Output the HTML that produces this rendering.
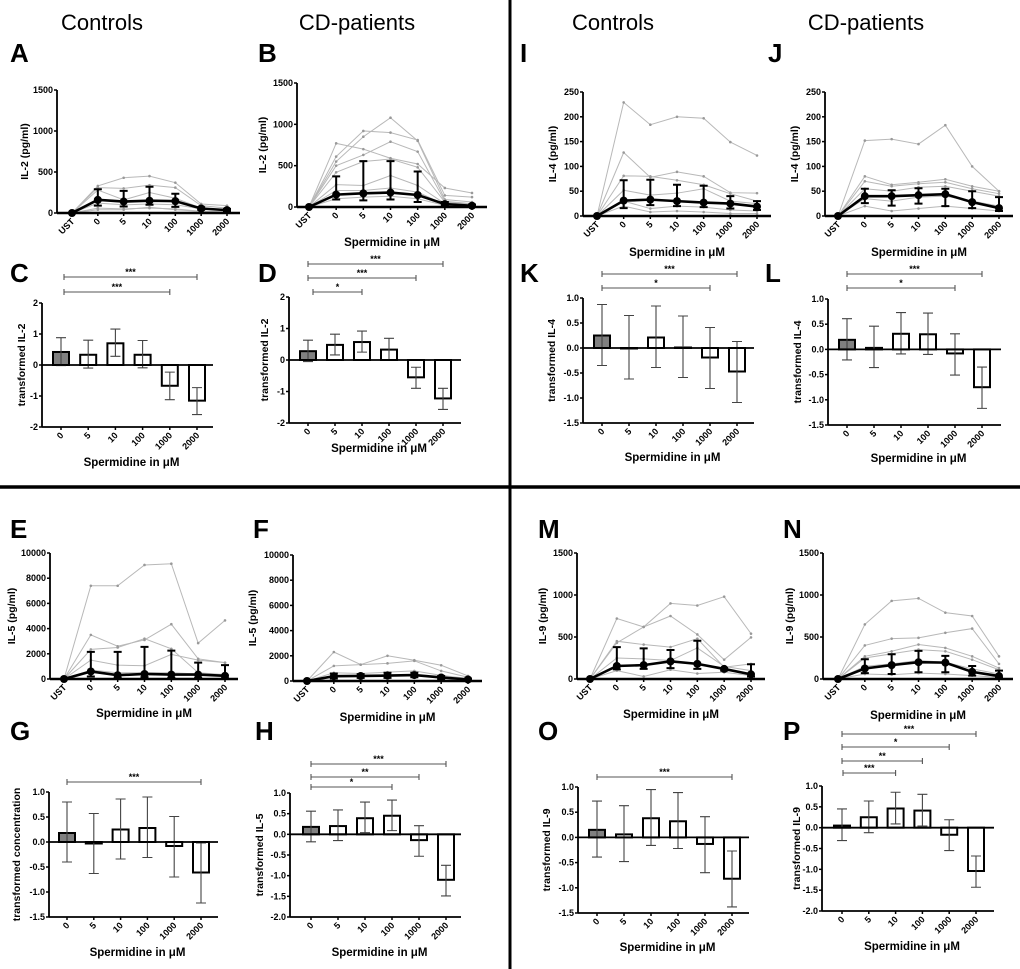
<!DOCTYPE html>
<html><head><meta charset="utf-8"><style>
body{margin:0;background:#fff;}
svg{display:block;font-family:"Liberation Sans",Arial,sans-serif;}
.hdr{font-size:22px;}
.lbl{font-size:26px;font-weight:bold;}
.tk{font-size:9px;font-weight:bold;}
.ttl{font-size:10.5px;font-weight:bold;}
.xt{font-size:11.5px;font-weight:bold;}
</style></head><body>
<svg id="fig" width="1020" height="969" viewBox="0 0 1020 969">
<rect width="1020" height="969" fill="#fff"/>
<line x1="510" y1="0" x2="510" y2="969" stroke="#000" stroke-width="3"/>
<line x1="0" y1="487" x2="1020" y2="487" stroke="#000" stroke-width="3.5"/>
<text class="hdr" x="102" y="30" text-anchor="middle">Controls</text>
<text class="hdr" x="357" y="30" text-anchor="middle">CD-patients</text>
<text class="hdr" x="613" y="30" text-anchor="middle">Controls</text>
<text class="hdr" x="866" y="30" text-anchor="middle">CD-patients</text>
<g id="plots"></g>
</svg>
<script>
// ---- line panel data ----
const lineCats = ["UST","0","5","10","100","1000","2000"];
const barCats = ["0","5","10","100","1000","2000"];

const aMean=[0,160,140,150,145,55,35], aHi=[0,290,270,320,235,70,50], aLo=[0,90,80,100,75,40,20];
const aInd=[[0,330,430,450,370,110,90],[0,310,300,340,310,90,60],[0,280,160,250,180,60,40],[0,120,100,110,100,50,30],[0,60,50,60,50,20,15],[0,40,40,70,40,20,10]];
const bMean=[0,150,165,175,145,35,15], bHi=[0,370,555,555,430,60,30], bLo=[0,90,80,90,60,15,5];
const bInd=[[0,770,700,590,520,230,170],[0,610,920,900,810,140,120],[0,550,850,1080,800,90,60],[0,500,630,790,670,70,40],[0,420,550,580,480,60,30],[0,270,260,380,260,40,20],[0,200,200,230,180,30,15],[0,100,120,130,100,20,10]];
const iMean=[0,31,33,30,27,25,19], iHi=[0,72,73,63,61,40,30], iLo=[0,16,22,20,18,15,12];
const iInd=[[0,229,184,200,197,149,122],[0,128,78,89,80,47,46],[0,81,80,72,63,45,30],[0,52,42,46,55,30,25],[0,30,15,20,18,12,10],[0,20,8,10,8,5,5]];
const jMean=[0,40,40,42,44,28,16], jHi=[0,55,52,56,55,50,38], jLo=[0,26,21,25,20,16,10];
const jInd=[[0,152,155,145,183,100,50],[0,80,63,68,74,60,50],[0,70,60,65,68,55,45],[0,55,50,58,60,50,40],[0,35,30,38,40,30,20],[0,20,10,15,20,15,10]];
const eMean=[0,600,300,400,350,350,250], eHi=[0,2150,2150,2550,2250,1300,1100], eLo=[0,200,100,150,100,100,50];
const eInd=[[0,7400,7400,9050,9150,2850,4650],[0,3500,2600,3100,4350,1600,1300],[0,2350,2500,3200,2400,500,350],[0,1500,1100,1050,1950,1500,1300],[0,700,500,500,500,400,300]];
const fMean=[0,380,400,430,470,280,120], fHi=[0,600,550,650,650,400,200], fLo=[0,200,250,250,300,150,50];
const fInd=[[0,2300,1300,2000,1650,1250,400],[0,1200,1300,1400,1600,800,300],[0,650,600,700,800,450,200]];
const mMean=[0,155,165,210,180,120,55], mHi=[0,380,365,345,455,130,175], mLo=[0,115,120,130,120,100,30];
const mInd=[[0,720,620,900,875,980,540],[0,430,620,750,530,230,495],[0,450,410,380,480,140,180],[0,250,240,220,370,150,100],[0,100,30,110,65,80,40]];
const nMean=[0,125,165,200,195,85,35], nHi=[0,235,295,335,275,155,100], nLo=[0,70,60,80,80,40,15];
const nInd=[[0,650,930,960,790,750,270],[0,400,480,490,550,600,180],[0,270,330,410,370,270,130],[0,250,300,350,330,230,110],[0,150,180,220,200,120,60],[0,60,50,70,60,40,20]];

// ---- bar panel data ----
const cVal=[0.42,0.33,0.70,0.33,-0.67,-1.15], cHi=[0.88,0.80,1.16,0.79,-0.23,-0.73], cLo=[-0.02,-0.10,0.28,-0.09,-1.12,-1.60];
const dVal=[0.28,0.48,0.57,0.33,-0.55,-1.22], dHi=[0.63,0.82,0.92,0.69,-0.23,-0.90], dLo=[-0.05,0.16,0.25,0.0,-0.90,-1.57];
const kVal=[0.25,0,0.21,0.01,-0.19,-0.47], kHi=[0.87,0.65,0.84,0.64,0.41,0.13], kLo=[-0.35,-0.62,-0.39,-0.59,-0.81,-1.09];
const lVal=[0.19,0.03,0.31,0.30,-0.08,-0.75], lHi=[0.61,0.46,0.73,0.72,0.31,-0.35], lLo=[-0.21,-0.36,-0.09,-0.10,-0.51,-1.17];
const gVal=[0.18,-0.03,0.25,0.28,-0.08,-0.61], gHi=[0.80,0.57,0.86,0.90,0.51,-0.02], gLo=[-0.40,-0.63,-0.34,-0.31,-0.70,-1.22];
const hVal=[0.18,0.20,0.39,0.45,-0.14,-1.10], hHi=[0.56,0.59,0.78,0.83,0.21,-0.75], hLo=[-0.18,-0.15,0.04,0.09,-0.53,-1.49];
const oVal=[0.15,0.06,0.38,0.32,-0.13,-0.82], oHi=[0.72,0.63,0.95,0.89,0.41,-0.27], oLo=[-0.39,-0.48,-0.16,-0.22,-0.70,-1.38];
const pVal=[0.05,0.25,0.46,0.41,-0.17,-1.04], pHi=[0.45,0.64,0.85,0.80,0.19,-0.68], pLo=[-0.31,-0.12,0.09,0.04,-0.55,-1.43];

const t1500=[0,500,1000,1500], t250=[0,50,100,150,200,250], t10000=[0,2000,4000,6000,8000,10000];
const tC=[-2,-1,0,1,2], tK=[-1.5,-1.0,-0.5,0.0,0.5,1.0], tH=[-2.0,-1.5,-1.0,-0.5,0.0,0.5,1.0];

const NS="http://www.w3.org/2000/svg";
const root=document.getElementById('plots');
function mk(tag,attrs,parent,txt){const e=document.createElementNS(NS,tag);for(const k in attrs)e.setAttribute(k,attrs[k]);if(txt!==undefined)e.textContent=txt;(parent||root).appendChild(e);return e;}

function linePanel(c){
  const g=mk('g',{});
  
  
  const ymax=c.ticks[c.ticks.length-1];
  const Y=v=>c.y0-(v/ymax)*(c.y0-c.yTop);
  const X=i=>c.x0+i*(c.x1-c.x0)/(lineCats.length-1);
  const lb=mk('text',{class:'lbl',x:c.lx,y:c.ly},g,c.id);
  
  
  c.ind.forEach(s=>{
    const pl=mk('polyline',{points:s.map((v,i)=>X(i)+','+Y(v)).join(' '),fill:'none',stroke:'#b8b8b8','stroke-width':1},g);
    
    
    s.forEach((v,i)=>{if(i>0)mk('circle',{cx:X(i),cy:Y(v),r:1.3,fill:'#999'},g);});
  });
  // axes
  const ya=mk('line',{x1:c.ax,y1:c.yTop,x2:c.ax,y2:c.y0,stroke:'#000','stroke-width':1.8},g);
  
  
  const xa=mk('line',{x1:c.ax,y1:c.y0,x2:c.xe,y2:c.y0,stroke:'#000','stroke-width':2.5},g);
  
  
  c.ticks.forEach(t=>{mk('line',{x1:c.ax-3,y1:Y(t),x2:c.ax,y2:Y(t),stroke:'#000','stroke-width':1.5},g);
    const tt=mk('text',{class:'tk',x:c.ax-4,y:Y(t)+3,'text-anchor':'end'},g,String(t));
    
    });
  lineCats.forEach((cat,i)=>{mk('line',{x1:X(i),y1:c.y0,x2:X(i),y2:c.y0+3,stroke:'#000','stroke-width':1.5},g);
    const tt=mk('text',{class:'tk','text-anchor':'end',transform:`translate(${X(i)+3},${c.y0+9}) rotate(-45)`},g,cat);
    
    });
  // error bars
  c.mean.forEach((v,i)=>{if(i===0)return;
    const x=X(i);
    const eb=mk('path',{d:`M${x},${Y(c.lo[i])}V${Y(c.hi[i])}M${x-4},${Y(c.hi[i])}h8M${x-4},${Y(c.lo[i])}h8`,stroke:'#000','stroke-width':2,fill:'none'},g);
    
    });
  const ml=mk('polyline',{points:c.mean.map((v,i)=>X(i)+','+Y(v)).join(' '),fill:'none',stroke:'#000','stroke-width':2.6},g);
  
  
  c.mean.forEach((v,i)=>{const p=mk('circle',{cx:X(i),cy:Y(v),r:4,fill:'#000'},g);
    
    });
  const yt=mk('text',{class:'ttl','text-anchor':'middle',transform:`translate(${c.tx},${(c.yTop+c.y0)/2}) rotate(-90)`},g,c.ytitle);
  
  
  if(c.xty){const xt=mk('text',{class:'xt','text-anchor':'middle',x:(c.ax+c.xe)/2,y:c.xty},g,'Spermidine in \u03bcM');
    
    }
}

function barPanel(c){
  const g=mk('g',{});
  
  
  const tmin=c.ticks[0],tmax=c.ticks[c.ticks.length-1];
  const Y=v=>c.yBot-(v-tmin)/(tmax-tmin)*(c.yBot-c.yTop);
  const X=i=>c.x0+i*(c.x1-c.x0)/(barCats.length-1);
  const lb=mk('text',{class:'lbl',x:c.lx,y:c.ly},g,c.id);
  
  
  c.val.forEach((v,i)=>{const x=X(i);
    const r=mk('rect',{x:x-8,y:Math.min(Y(v),Y(0)),width:16,height:Math.max(Math.abs(Y(v)-Y(0)),0.5),fill:i===0?'#808080':'#fff',stroke:'#000','stroke-width':2},g);
    
    
    const eb=mk('path',{d:`M${x},${Y(c.lo[i])}V${Y(c.hi[i])}M${x-5},${Y(c.hi[i])}h10M${x-5},${Y(c.lo[i])}h10`,stroke:'#444','stroke-width':1.1,fill:'none'},g);
    
    });
  const ya=mk('line',{x1:c.ax,y1:c.yTop,x2:c.ax,y2:c.yBot,stroke:'#000','stroke-width':1.8},g);
  
  
  const xa=mk('line',{x1:c.ax,y1:c.yBot,x2:c.xe,y2:c.yBot,stroke:'#000','stroke-width':1.8},g);
  
  
  const zl=mk('line',{x1:c.ax,y1:Y(0),x2:c.xe,y2:Y(0),stroke:'#000','stroke-width':1.8},g);
  
  
  c.ticks.forEach(t=>{mk('line',{x1:c.ax-3,y1:Y(t),x2:c.ax,y2:Y(t),stroke:'#000','stroke-width':1.5},g);
    const tt=mk('text',{class:'tk',x:c.ax-4,y:Y(t)+3,'text-anchor':'end'},g,c.dec?t.toFixed(1):String(t));
    
    });
  barCats.forEach((cat,i)=>{mk('line',{x1:X(i),y1:c.yBot,x2:X(i),y2:c.yBot+3,stroke:'#000','stroke-width':1.5},g);
    const tt=mk('text',{class:'tk','text-anchor':'end',transform:`translate(${X(i)+3},${c.yBot+9}) rotate(-45)`},g,cat);
    
    });
  c.sig.forEach(s=>{const xa2=X(s[0])+(s[3]||0),xb=X(s[1]);
    const sl=mk('path',{d:`M${xa2},${s[2]}H${xb}M${xa2},${s[2]-3}v6M${xb},${s[2]-3}v6`,stroke:'#555','stroke-width':1.1,fill:'none'},g);
    
    
    const st=mk('text',{x:(xa2+xb)/2,y:s[2]-2,'text-anchor':'middle','font-size':'9px','font-weight':'bold'},g,s[4]);
    
    });
  const yt=mk('text',{class:'ttl','text-anchor':'middle',transform:`translate(${c.tx},${(c.yTop+c.yBot)/2}) rotate(-90)`},g,c.ytitle);
  
  
  const xt=mk('text',{class:'xt','text-anchor':'middle',x:(c.ax+c.xe)/2+4,y:c.xty},g,'Spermidine in \u03bcM');
  
  
}

linePanel({id:'A',lx:10,ly:62,ax:57,xe:240,x0:72,x1:227,yTop:90,y0:213,ticks:t1500,mean:aMean,hi:aHi,lo:aLo,ind:aInd,tx:28,ytitle:'IL-2 (pg/ml)',xty:0});
linePanel({id:'B',lx:258,ly:62,ax:297,xe:487,x0:309,x1:472,yTop:83,y0:207,ticks:t1500,mean:bMean,hi:bHi,lo:bLo,ind:bInd,tx:266,ytitle:'IL-2 (pg/ml)',xty:246});
linePanel({id:'I',lx:520,ly:62,ax:583,xe:771,x0:597,x1:757,yTop:92,y0:216,ticks:t250,mean:iMean,hi:iHi,lo:iLo,ind:iInd,tx:556,ytitle:'IL-4 (pg/ml)',xty:256});
linePanel({id:'J',lx:768,ly:62,ax:825,xe:1013,x0:838,x1:999,yTop:92,y0:216,ticks:t250,mean:jMean,hi:jHi,lo:jLo,ind:jInd,tx:798,ytitle:'IL-4 (pg/ml)',xty:256});
linePanel({id:'E',lx:10,ly:538,ax:50,xe:238,x0:64,x1:225,yTop:553,y0:679,ticks:t10000,mean:eMean,hi:eHi,lo:eLo,ind:eInd,tx:15,ytitle:'IL-5 (pg/ml)',xty:717});
linePanel({id:'F',lx:253,ly:538,ax:293,xe:482,x0:307,x1:468,yTop:555,y0:681,ticks:t10000,mean:fMean,hi:fHi,lo:fLo,ind:fInd,tx:256,ytitle:'IL-5 (pg/ml)',xty:721});
linePanel({id:'M',lx:538,ly:538,ax:577,xe:765,x0:590,x1:751,yTop:553,y0:679,ticks:t1500,mean:mMean,hi:mHi,lo:mLo,ind:mInd,tx:546,ytitle:'IL-9 (pg/ml)',xty:718});
linePanel({id:'N',lx:783,ly:538,ax:823,xe:1013,x0:838,x1:999,yTop:553,y0:679,ticks:t1500,mean:nMean,hi:nHi,lo:nLo,ind:nInd,tx:793,ytitle:'IL-9 (pg/ml)',xty:719});

barPanel({id:'C',lx:10,ly:282,ax:42,xe:213,x0:61,x1:197,yTop:303,yBot:427,ticks:tC,dec:false,val:cVal,hi:cHi,lo:cLo,tx:25,ytitle:'transformed IL-2',xty:466,
  sig:[[0,5,277,3,'***'],[0,4,292,3,'***']]});
barPanel({id:'D',lx:258,ly:282,ax:289,xe:461,x0:308,x1:443,yTop:297,yBot:423,ticks:tC,dec:false,val:dVal,hi:dHi,lo:dLo,tx:268,ytitle:'transformed IL-2',xty:452,
  sig:[[0,5,264,0,'***'],[0,4,278,0,'***'],[0,2,292,5,'*']]});
barPanel({id:'K',lx:520,ly:282,ax:583,xe:754,x0:602,x1:737,yTop:298,yBot:423,ticks:tK,dec:true,val:kVal,hi:kHi,lo:kLo,tx:555,ytitle:'transformed IL-4',xty:461,
  sig:[[0,5,274,0,'***'],[0,4,288,0,'*']]});
barPanel({id:'L',lx:765,ly:282,ax:828,xe:1001,x0:847,x1:982,yTop:299,yBot:425,ticks:tK,dec:true,val:lVal,hi:lHi,lo:lLo,tx:801,ytitle:'transformed IL-4',xty:462,
  sig:[[0,5,274,0,'***'],[0,4,288,0,'*']]});
barPanel({id:'G',lx:10,ly:740,ax:49,xe:218,x0:67,x1:201,yTop:792,yBot:917,ticks:tK,dec:true,val:gVal,hi:gHi,lo:gLo,tx:20,ytitle:'transformed concentration',xty:956,
  sig:[[0,5,782,0,'***']]});
barPanel({id:'H',lx:255,ly:740,ax:290,xe:461,x0:311,x1:446,yTop:793,yBot:917,ticks:tH,dec:true,val:hVal,hi:hHi,lo:hLo,tx:263,ytitle:'transformed IL-5',xty:956,
  sig:[[0,5,764,0,'***'],[0,4,777,0,'**'],[0,3,787,0,'*']]});
barPanel({id:'O',lx:538,ly:740,ax:578,xe:749,x0:597,x1:732,yTop:787,yBot:913,ticks:tK,dec:true,val:oVal,hi:oHi,lo:oLo,tx:550,ytitle:'transformed IL-9',xty:951,
  sig:[[0,5,777,0,'***']]});
barPanel({id:'P',lx:783,ly:740,ax:822,xe:994,x0:842,x1:976,yTop:786,yBot:911,ticks:tH,dec:true,val:pVal,hi:pHi,lo:pLo,tx:800,ytitle:'transformed IL-9',xty:950,
  sig:[[0,5,734,0,'***'],[0,4,747,0,'*'],[0,3,761,0,'**'],[0,2,773,1,'***']]});
</script>
</body></html>
